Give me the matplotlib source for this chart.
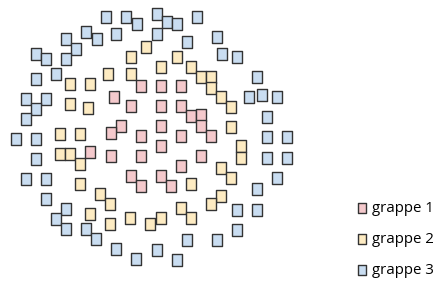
import numpy as np
import matplotlib
matplotlib.use("Agg")
import matplotlib.pyplot as plt
from matplotlib.path import Path

plt.rcParams['font.family'] = ['Open Sans', 'DejaVu Sans']

# point positions (pixel-like units, y grows downward)
g1_x = [141, 161, 181, 114, 131, 161, 181, 191, 201, 201, 161, 121, 111, 141, 181, 211,
        161, 111, 141, 201, 181, 131, 161, 141, 171, 90]
g1_y = [86, 86, 86, 97, 106, 106, 106, 116, 115, 126, 126, 126, 133, 136, 136, 136,
        146, 156, 156, 156, 166, 176, 176, 186, 186, 152]

g2_x = [146, 131, 108, 131, 70, 90, 70, 88, 60, 80,
        177, 161, 191, 201, 211, 211, 221, 231, 231, 241, 241,
        60, 70, 80, 80, 100, 110, 90, 110, 130, 150,
        221, 231, 191, 221, 211, 181, 191, 161]
g2_y = [47, 57, 74, 74, 84, 84, 104, 108, 134, 134,
        57, 67, 67, 77, 77, 88, 97, 107, 127, 146, 158,
        154, 154, 164, 184, 194, 204, 214, 224, 218, 224,
        168, 178, 184, 196, 204, 208, 218, 218]

g3_x = [106, 126, 137, 86, 97, 116, 66, 76, 66, 36, 46, 56, 36, 26, 46, 36, 26, 16, 36,
        157, 167, 177, 197, 157, 187, 217, 222, 237, 257, 249, 262, 277, 267, 267, 287,
        36, 26, 46, 46, 66, 56, 66, 86, 96, 116, 136,
        267, 287, 277, 257, 237, 257, 237, 187, 217, 157, 177]
g3_y = [17, 17, 24, 32, 39, 34, 39, 49, 59, 54, 59, 74, 79, 99, 99, 109, 119, 139, 139,
        14, 22, 24, 17, 34, 42, 37, 54, 57, 77, 97, 95, 97, 117, 137, 137,
        159, 179, 179, 199, 209, 219, 229, 229, 239, 249, 259,
        158, 158, 178, 189, 210, 210, 230, 240, 240, 250, 260]

labels = ['grappe 1', 'grappe 2', 'grappe 3']
colors = ['#f4c9cc', '#fdebc2', '#c9ddf1']

# slightly tall rectangle marker
rect = Path([(-0.38, -0.5), (0.38, -0.5), (0.38, 0.5), (-0.38, 0.5), (-0.38, -0.5)],
            [Path.MOVETO, Path.LINETO, Path.LINETO, Path.LINETO, Path.CLOSEPOLY])

fig = plt.figure(figsize=(4.48, 2.91), dpi=100)
ax = fig.add_axes([0, 0, 1, 1])

for xs, ys, lab, col in zip([g1_x, g2_x, g3_x], [g1_y, g2_y, g3_y], labels, colors):
    ax.scatter(xs, ys, s=86, marker=rect, c=col, edgecolors='#333333',
               linewidths=1.0, label=lab, zorder=3)

ax.set_xlim(0, 448)
ax.set_ylim(291, 0)
ax.axis('off')

ax.legend(loc='upper left', bbox_to_anchor=(357, 201), bbox_transform=ax.transData,
          frameon=False, fontsize=10.8, markerscale=0.8, handlelength=0.6,
          handletextpad=0.4, labelspacing=1.08, borderpad=0, borderaxespad=0)

fig.savefig('out.png', dpi=100)
